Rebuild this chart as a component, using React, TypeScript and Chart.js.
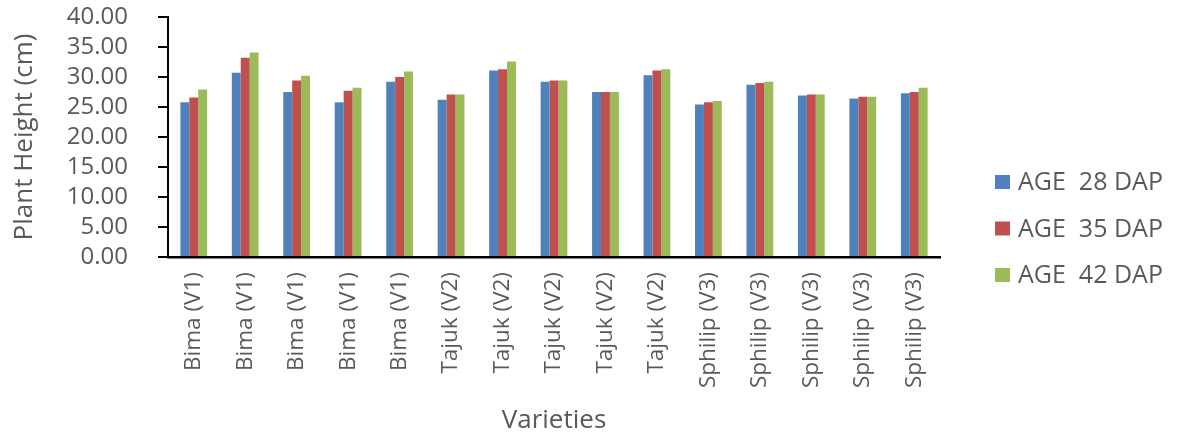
import React, { useEffect, useRef } from "react";
import { Chart, registerables } from "chart.js";

Chart.register(...registerables);

// Plant height (cm) per variety plot at three crop ages
const varieties = [
  "Bima (V1)", "Bima (V1)", "Bima (V1)", "Bima (V1)", "Bima (V1)",
  "Tajuk (V2)", "Tajuk (V2)", "Tajuk (V2)", "Tajuk (V2)", "Tajuk (V2)",
  "Sphilip (V3)", "Sphilip (V3)", "Sphilip (V3)", "Sphilip (V3)", "Sphilip (V3)",
];
const age28 = [25.8, 30.7, 27.5, 25.8, 29.2, 26.2, 31.1, 29.2, 27.5, 30.3, 25.4, 28.7, 26.9, 26.4, 27.3];
const age35 = [26.6, 33.2, 29.4, 27.7, 30.0, 27.1, 31.3, 29.4, 27.5, 31.1, 25.8, 29.0, 27.1, 26.7, 27.5];
const age42 = [27.9, 34.1, 30.2, 28.2, 30.9, 27.1, 32.6, 29.4, 27.5, 31.3, 26.0, 29.2, 27.1, 26.7, 28.2];
const seriesNames = ["AGE  28 DAP", "AGE  35 DAP", "AGE  42 DAP"];
const seriesColors = ["#4F81BD", "#C0504D", "#9BBB59"];

const FONT = "'Open Sans', sans-serif";
const TEXT = "#595959";

// Legend drawn to the right of the plot, one row per series
const sideLegend = {
  id: "sideLegend",
  afterDraw(chart: Chart) {
    const { ctx, chartArea } = chart;
    const boxX = chartArea.right + 55;
    const firstY = 182;
    const rowGap = 46.5;
    ctx.save();
    ctx.font = `25px ${FONT}`;
    ctx.textBaseline = "middle";
    ctx.textAlign = "left";
    chart.data.datasets.forEach((ds, i) => {
      const y = firstY + i * rowGap;
      ctx.fillStyle = ds.backgroundColor as string;
      ctx.fillRect(boxX, y - 7, 15, 14);
      ctx.fillStyle = TEXT;
      ctx.fillText(ds.label as string, boxX + 23, y + 1);
    });
    ctx.restore();
  },
};

export default function App() {
  const ref = useRef<HTMLCanvasElement | null>(null);

  useEffect(() => {
    if (!ref.current) return;
    const series = [age28, age35, age42];
    const chart = new Chart(ref.current, {
      type: "bar",
      data: {
        labels: varieties,
        datasets: series.map((data, i) => ({
          label: seriesNames[i],
          data,
          backgroundColor: seriesColors[i],
          borderWidth: 0,
          categoryPercentage: 0.52,
          barPercentage: 1.0,
        })),
      },
      options: {
        animation: false,
        responsive: false,
        maintainAspectRatio: false,
        layout: { padding: { top: 17, right: 241, left: 0, bottom: 0 } },
        plugins: {
          legend: { display: false },
          tooltip: { enabled: false },
        },
        scales: {
          x: {
            afterFit: (s: any) => { s.height = 179; },
            grid: { display: false, drawTicks: false },
            border: { display: true, color: "#000000", width: 2.5 },
            ticks: {
              autoSkip: false,
              minRotation: 90,
              maxRotation: 90,
              padding: 15,
              color: TEXT,
              font: { family: FONT, size: 22.5 },
            },
            title: {
              display: true,
              text: "Varieties",
              color: TEXT,
              font: { family: FONT, size: 26 },
              padding: { top: 0, bottom: 0 },
            },
          },
          y: {
            min: 0,
            max: 40,
            afterFit: (s: any) => {
              s.width = 168;
              s.paddingTop = 0;
              s.paddingBottom = 0;
            },
            grid: {
              drawOnChartArea: false,
              drawTicks: true,
              tickLength: 10,
              color: "#000000",
              lineWidth: 2,
            },
            border: { display: true, color: "#000000", width: 2 },
            ticks: {
              stepSize: 5,
              autoSkip: false,
              padding: 30,
              color: TEXT,
              font: { family: FONT, size: 24 },
              callback: (v: any) => Number(v).toFixed(2),
            },
            title: {
              display: true,
              text: "Plant Height (cm)",
              color: TEXT,
              font: { family: FONT, size: 26 },
              padding: { top: 9, bottom: 0 },
            },
          },
        },
      },
      plugins: [sideLegend],
    });
    return () => chart.destroy();
  }, []);

  return (
    <div style={{ position: "absolute", left: 0, top: 0, width: 1181, height: 436, background: "#ffffff" }}>
      <canvas ref={ref} width={1181} height={436} />
    </div>
  );
}
